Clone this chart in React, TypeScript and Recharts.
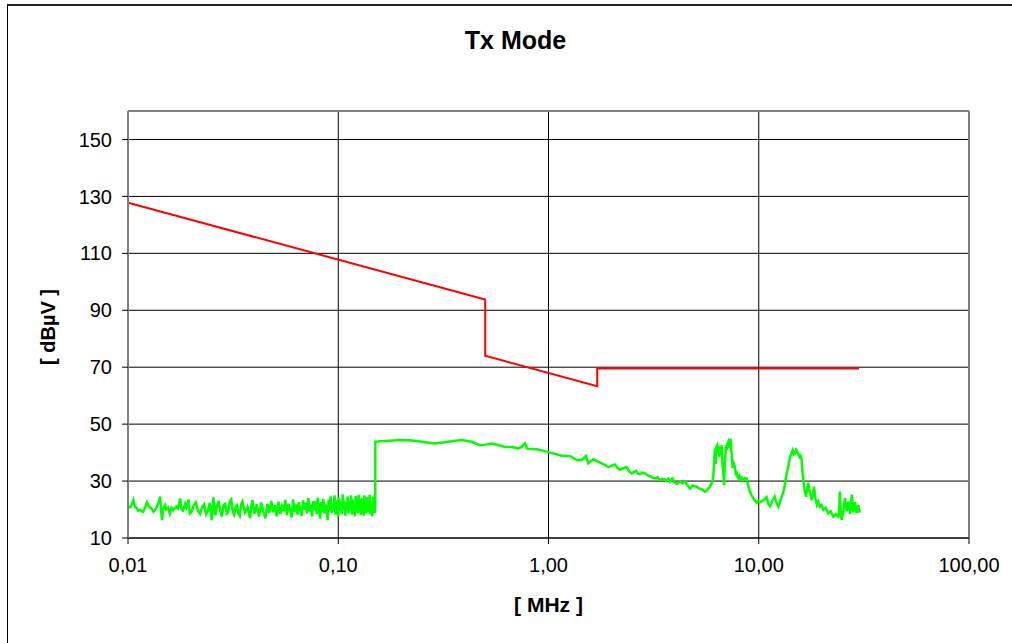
import React from 'react';
import { LineChart, Line, XAxis, YAxis, CartesianGrid, ReferenceLine } from 'recharts';

const FONT = '"Liberation Sans", Arial, Helvetica, sans-serif';

// Axis ticks
const freqTicks = [0.01, 0.1, 1, 10, 100];
const levelTicks = [10, 30, 50, 70, 90, 110, 130, 150];

// Limit line [MHz, dBµV]
const limitLine: [number, number][] = [
  [0.01, 127.8], [0.5, 93.8], [0.5, 74.0], [1.705, 63.3], [1.705, 69.5], [30, 69.5],
];

// Measured emission, 10 kHz – 150 kHz [MHz, dBµV]
const lowBand: [number, number][] = [
  [0.0100, 21.2], [0.0102, 20.8], [0.0104, 21.5], [0.0106, 23.3], [0.0108, 21.0], [0.0110, 20.5],
  [0.0112, 19.6], [0.0114, 20.0], [0.0116, 19.4], [0.0118, 19.2], [0.0121, 21.0], [0.0123, 22.5],
  [0.0125, 21.4], [0.0127, 20.8], [0.0130, 20.2], [0.0132, 19.2], [0.0135, 20.0], [0.0137, 21.0],
  [0.0140, 22.6], [0.0142, 24.5], [0.0145, 16.3], [0.0147, 20.4], [0.0150, 21.5], [0.0152, 20.0],
  [0.0155, 20.7], [0.0158, 18.6], [0.0161, 20.6], [0.0164, 19.8], [0.0167, 20.4], [0.0170, 21.0],
  [0.0173, 20.4], [0.0177, 23.9], [0.0180, 20.0], [0.0183, 19.6], [0.0187, 22.0], [0.0190, 20.8],
  [0.0194, 23.5], [0.0197, 18.6],
  [0.0200, 19.0], [0.0205, 21.4], [0.0210, 22.5], [0.0215, 19.6], [0.0220, 18.5], [0.0225, 20.8],
  [0.0230, 21.8], [0.0235, 18.4], [0.0240, 19.5], [0.0245, 22.4], [0.0250, 16.3], [0.0255, 24.3],
  [0.0260, 18.0], [0.0265, 21.2], [0.0270, 23.0], [0.0275, 19.2], [0.0280, 17.5], [0.0285, 21.6],
  [0.0290, 22.0], [0.0295, 18.6], [0.0300, 19.2], [0.0305, 22.8], [0.0310, 23.5], [0.0315, 19.4],
  [0.0320, 18.2], [0.0325, 21.0], [0.0330, 21.5], [0.0335, 18.6], [0.0340, 17.8], [0.0345, 21.8],
  [0.0350, 22.8], [0.036, 19.0], [0.037, 21.0], [0.038, 17.0], [0.039, 23.3], [0.040, 18.6],
  [0.041, 21.8], [0.042, 17.5], [0.043, 22.5], [0.044, 19.4], [0.045, 16.9], [0.046, 22.0],
  [0.047, 18.8], [0.048, 23.0], [0.049, 19.0], [0.050, 21.5], [0.051, 17.6], [0.052, 22.8],
  [0.053, 18.4], [0.054, 21.2], [0.055, 19.5], [0.056, 23.4], [0.057, 18.0], [0.058, 22.0],
  [0.059, 19.6], [0.060, 17.2], [0.061, 23.6], [0.062, 19.0], [0.063, 21.8], [0.064, 18.2],
  [0.065, 22.6], [0.066, 19.8], [0.067, 17.8], [0.068, 23.2], [0.069, 20.0], [0.070, 22.4],
  [0.071, 18.6], [0.072, 24.0], [0.073, 19.4], [0.074, 21.6], [0.075, 17.6], [0.076, 23.0],
  [0.077, 19.8], [0.078, 22.8], [0.079, 18.4], [0.080, 24.2], [0.081, 20.2], [0.082, 16.8],
  [0.083, 22.6], [0.084, 19.2], [0.085, 23.8], [0.086, 18.6], [0.087, 21.8], [0.088, 20.0],
  [0.089, 16.3], [0.090, 23.4], [0.091, 19.6], [0.092, 24.6], [0.093, 18.8], [0.094, 22.2],
  [0.095, 19.8], [0.096, 25.0], [0.097, 18.2], [0.098, 23.2], [0.099, 20.4], [0.100, 17.6],
  [0.101, 24.2], [0.102, 19.8], [0.103, 22.6], [0.104, 18.4], [0.105, 25.3], [0.106, 20.2],
  [0.107, 23.0], [0.108, 17.8], [0.109, 22.4], [0.110, 19.6], [0.111, 24.6], [0.112, 18.6],
  [0.113, 22.8], [0.114, 20.4], [0.115, 25.0], [0.116, 18.2], [0.117, 23.6], [0.118, 19.4],
  [0.119, 22.0], [0.120, 17.6], [0.121, 24.8], [0.122, 20.6], [0.123, 23.2], [0.124, 18.8],
  [0.125, 25.2], [0.126, 19.8], [0.127, 22.6], [0.128, 18.0], [0.129, 24.0], [0.130, 20.4],
  [0.131, 23.0], [0.132, 17.8], [0.133, 25.0], [0.134, 19.6], [0.135, 22.8], [0.136, 18.6],
  [0.137, 24.4], [0.138, 20.2], [0.139, 23.6], [0.140, 19.0], [0.141, 25.2], [0.142, 18.4],
  [0.143, 22.4], [0.144, 20.6], [0.145, 17.6], [0.146, 24.6], [0.147, 19.8], [0.148, 23.4],
  [0.149, 18.8], [0.150, 21.8],
];

// Measured emission, 150 kHz – 6 MHz
const midBand: [number, number][] = [
  [0.150, 43.8], [0.158, 44.0], [0.175, 44.2], [0.197, 44.4], [0.22, 44.3], [0.25, 43.8],
  [0.288, 43.2], [0.32, 43.6], [0.36, 44.2], [0.387, 44.4], [0.41, 44.1], [0.431, 43.8],
  [0.45, 43.2], [0.472, 42.6], [0.50, 42.8], [0.537, 43.2], [0.58, 42.6], [0.621, 42.0],
  [0.67, 42.0], [0.718, 41.5], [0.745, 42.0], [0.773, 43.2], [0.79, 41.5], [0.81, 41.3],
  [0.879, 41.2], [0.95, 40.6], [1.016, 40.0], [1.08, 39.5], [1.155, 38.9], [1.265, 38.8],
  [1.361, 37.4], [1.438, 37.4], [1.507, 38.8], [1.546, 36.2], [1.633, 37.7], [1.70, 37.0],
  [1.757, 36.6], [1.84, 35.8], [1.926, 34.9], [2.0, 35.4], [2.071, 35.8], [2.13, 34.6],
  [2.188, 34.0], [2.27, 34.5], [2.355, 34.9], [2.42, 33.4], [2.488, 32.7], [2.55, 33.2],
  [2.609, 33.6], [2.66, 32.6], [2.724, 32.4], [2.80, 33.0], [2.877, 32.7], [2.96, 32.0],
  [3.041, 31.7], [3.12, 31.2], [3.213, 30.9], [3.30, 31.4], [3.388, 30.3], [3.48, 30.8],
  [3.58, 30.6], [3.65, 30.0], [3.72, 30.8], [3.78, 29.8], [3.84, 30.6], [3.89, 30.9],
  [3.97, 29.6], [4.07, 29.0], [4.14, 29.4], [4.25, 29.8], [4.36, 29.2], [4.46, 29.8],
  [4.58, 28.6], [4.71, 27.4], [4.85, 28.4], [4.95, 28.2], [5.07, 28.0], [5.2, 27.4],
  [5.35, 27.2], [5.55, 26.3], [5.7, 27.0], [5.86, 28.0], [5.95, 29.0], [6.04, 30.3],
];

// Measured emission, 6 MHz – 30 MHz
const highBand: [number, number][] = [
  [6.10, 33.0], [6.15, 38.5], [6.19, 41.5], [6.24, 36.0], [6.29, 42.0], [6.35, 42.6],
  [6.40, 40.0], [6.45, 42.2], [6.49, 38.5], [6.55, 41.8], [6.60, 40.5], [6.66, 42.6],
  [6.72, 36.5], [6.78, 33.0], [6.84, 28.6], [6.90, 36.0], [6.98, 42.6], [7.04, 41.0],
  [7.10, 43.2], [7.16, 43.8], [7.22, 41.5], [7.30, 44.4], [7.36, 44.4], [7.42, 40.0],
  [7.52, 34.5], [7.60, 36.2], [7.71, 35.1], [7.78, 32.0], [7.85, 33.4], [7.92, 31.5],
  [8.00, 30.9], [8.10, 31.8], [8.20, 30.6], [8.30, 31.2], [8.45, 30.3], [8.60, 31.0],
  [8.77, 30.9], [8.90, 28.5], [9.08, 26.3], [9.25, 25.0], [9.42, 24.0], [9.60, 23.0],
  [9.78, 22.4], [9.95, 23.0], [10.1, 22.6], [10.33, 22.8], [10.6, 23.4], [10.9, 24.3],
  [11.1, 22.0], [11.3, 21.2], [11.6, 23.0], [11.9, 24.5], [12.1, 22.6], [12.4, 21.0],
  [12.7, 23.4], [13.1, 26.3], [13.3, 28.6], [13.5, 31.6], [13.8, 35.0], [14.1, 38.5],
  [14.3, 39.8], [14.5, 40.9], [14.7, 39.4], [14.9, 39.7], [15.05, 41.0], [15.2, 40.6],
  [15.4, 39.6], [15.6, 38.5], [15.8, 38.9], [16.0, 37.4], [16.15, 33.0], [16.3, 30.3],
  [16.55, 26.5], [16.8, 24.5], [17.0, 27.5], [17.2, 29.4], [17.5, 26.0], [17.9, 23.3],
  [18.1, 25.5], [18.3, 28.0], [18.6, 24.0], [18.9, 21.6], [19.2, 22.8], [19.5, 21.0],
  [19.9, 21.6], [20.3, 19.9], [20.8, 20.6], [21.4, 18.7], [22.0, 19.4], [22.6, 17.5],
  [23.2, 18.4], [23.9, 17.5], [24.1, 18.8], [24.3, 26.3], [24.5, 20.0], [24.8, 16.3],
  [25.2, 19.0], [25.7, 24.0], [26.2, 19.5], [26.7, 22.8], [27.2, 18.5], [27.7, 25.2],
  [28.2, 19.0], [28.7, 22.6], [29.2, 18.8], [29.8, 21.6], [30.0, 19.0], [30.3, 19.9],
];

const toRows = (pts: [number, number][]) => pts.map(([f, v]) => ({ f, v }));
const limitRows = toRows(limitLine);
const emissionRows = toRows([...lowBand, ...midBand, ...highBand]);

const formatFreq = (v: number) => v.toFixed(2).replace('.', ',');

const tickStyle = { fill: '#000', fontSize: 20, fontFamily: FONT };

export default function App() {
  return (
    <div style={{ position: 'absolute', left: 0, top: 0, width: 1012, height: 643, overflow: 'hidden', background: '#fff' }}>
      <div
        style={{
          position: 'absolute', left: 7, top: 4, width: 1200, height: 900,
          borderLeft: '1px solid #000', borderTop: '2px solid #222',
        }}
      />
      <div
        style={{
          position: 'absolute', left: 0, top: 26, width: 1031, textAlign: 'center',
          fontFamily: FONT, fontWeight: 'bold', fontSize: 25, color: '#000', whiteSpace: 'pre',
        }}
      >
        Tx Mode
      </div>
      <div
        style={{
          position: 'absolute', left: 0, top: 593, width: 1097, textAlign: 'center',
          fontFamily: FONT, fontWeight: 'bold', fontSize: 21, color: '#000', whiteSpace: 'pre',
        }}
      >
        [ MHz ]
      </div>
      <div style={{ position: 'absolute', left: 48, top: 327, width: 0, height: 0 }}>
        <div
          style={{
            position: 'absolute', left: -100, top: -12, width: 200, textAlign: 'center',
            transform: 'rotate(-90deg)', transformOrigin: '100px 12px',
            fontFamily: FONT, fontWeight: 'bold', fontSize: 20, color: '#000', lineHeight: '24px',
            whiteSpace: 'pre',
          }}
        >
          [ dBµV ]
        </div>
      </div>
      <div style={{ position: 'absolute', left: 0, top: 0 }}>
        <LineChart width={1012} height={643} margin={{ top: 111, right: 43, bottom: 75, left: 68 }}>
          <CartesianGrid stroke="#000" strokeWidth={1} />
          <XAxis
            dataKey="f"
            type="number"
            scale="log"
            domain={[0.01, 100]}
            allowDataOverflow
            ticks={freqTicks}
            interval={0}
            tickFormatter={formatFreq}
            tick={tickStyle}
            tickSize={6}
            tickMargin={14}
            height={30}
            axisLine={{ stroke: '#000', strokeWidth: 1 }}
            tickLine={{ stroke: '#000' }}
          />
          <YAxis
            type="number"
            domain={[10, 160]}
            ticks={levelTicks}
            interval={0}
            tick={tickStyle}
            tickSize={6}
            tickMargin={10}
            width={60}
            axisLine={{ stroke: '#808080', strokeWidth: 2 }}
            tickLine={{ stroke: '#000' }}
          />
          <ReferenceLine y={160} stroke="#808080" strokeWidth={2} />
          <ReferenceLine x={100} stroke="#808080" strokeWidth={2} />
          <Line
            data={limitRows}
            dataKey="v"
            type="linear"
            stroke="#ff0000"
            strokeWidth={2}
            dot={false}
            isAnimationActive={false}
          />
          <Line
            data={emissionRows}
            dataKey="v"
            type="linear"
            stroke="#00ff00"
            strokeWidth={2.5}
            dot={false}
            isAnimationActive={false}
          />
        </LineChart>
      </div>
    </div>
  );
}
